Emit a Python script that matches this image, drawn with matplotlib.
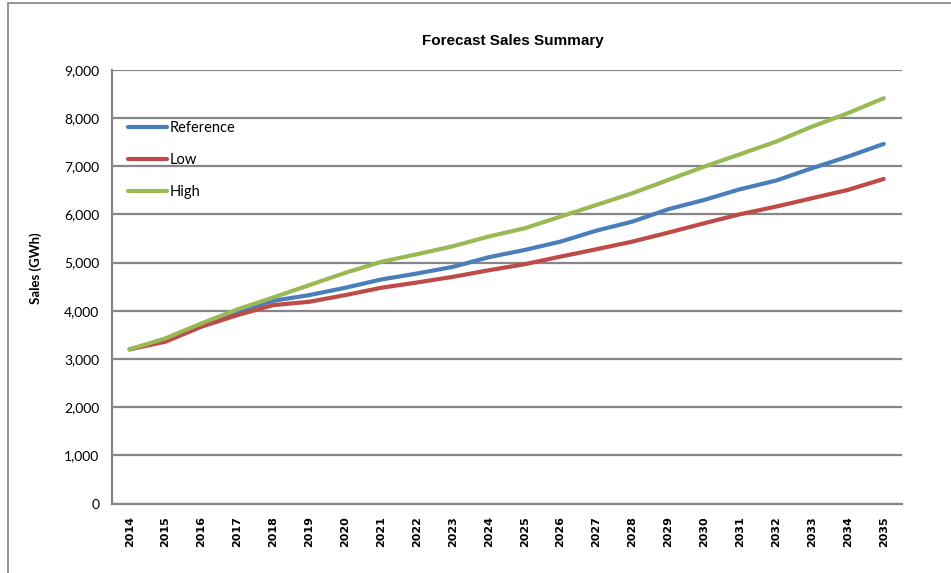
import matplotlib
matplotlib.use("Agg")
import matplotlib.pyplot as plt
from matplotlib.patches import Rectangle

years = [str(y) for y in range(2014, 2036)]
reference = [3200, 3393, 3703, 3979, 4207, 4324, 4476, 4648, 4772, 4910, 5110,
             5261, 5434, 5662, 5849, 6106, 6299, 6521, 6700, 6956, 7197, 7461]
low = [3200, 3359, 3669, 3910, 4117, 4186, 4324, 4476, 4586, 4703, 4840,
       4965, 5123, 5276, 5434, 5621, 5815, 6002, 6160, 6334, 6506, 6734]
high = [3200, 3428, 3738, 4028, 4276, 4531, 4786, 5014, 5172, 5338, 5540,
        5711, 5953, 6195, 6438, 6714, 6990, 7247, 7508, 7819, 8098, 8409]
series_names = ["Reference", "Low", "High"]
series_colors = ["#4A7EBB", "#BE4B48", "#98B954"]
yticks = [0, 1000, 2000, 3000, 4000, 5000, 6000, 7000, 8000, 9000]

W, H = 951, 573
fig = plt.figure(figsize=(W / 100, H / 100), dpi=100)
fig.patch.set_facecolor("white")

# outer chart border
fig.add_artist(Rectangle((8 / W, -0.05), 1.1, 1 - 3 / H + 0.05, transform=fig.transFigure,
                         fill=False, edgecolor="#8C8C8C", linewidth=1.3))

ax = fig.add_axes([111.7 / W, 1 - 503.6 / H, (901.7 - 111.7) / W, (503.6 - 69.7) / H])
x = list(range(len(years)))
for vals, name, col in zip([reference, low, high], series_names, series_colors):
    ax.plot(x, vals, color=col, linewidth=3.0, label=name, solid_capstyle="round")

ax.set_xlim(-0.5, len(years) - 0.5)
ax.set_ylim(0, 9000)
ax.set_yticks(yticks)
ax.set_yticklabels([f"{v:,}" for v in yticks], fontsize=10, family="Lato")
ax.set_xticks(x)
ax.set_xticklabels(years, rotation=90, fontsize=8, fontweight="bold", family="DejaVu Sans")
ax.tick_params(axis="y", length=0, pad=9)
ax.tick_params(axis="x", length=0, pad=9)
ax.grid(axis="y", color="#868686", linewidth=1.6)
ax.set_axisbelow(True)
for s in ["top", "right"]:
    ax.spines[s].set_visible(False)
for s in ["left", "bottom"]:
    ax.spines[s].set_color("#868686")
    ax.spines[s].set_linewidth(1.6)

fig.text(513 / W, 1 - 41 / H, "Forecast Sales Summary", ha="center", va="center",
         fontsize=11, fontweight="bold", family="Liberation Sans")
fig.text(36 / W, 1 - 268 / H, "Sales (GWh)", ha="center", va="center", rotation=90,
         fontsize=9.5, fontweight="bold", family="Lato")

leg = fig.legend(loc="upper left", bbox_to_anchor=(128 / W, 1 - 121 / H), frameon=False,
                 borderpad=0, borderaxespad=0, handlelength=2.7, handletextpad=0.15,
                 labelspacing=1.25, prop={"family": "Lato", "size": 10.5})

fig.savefig("out.png", dpi=100)
